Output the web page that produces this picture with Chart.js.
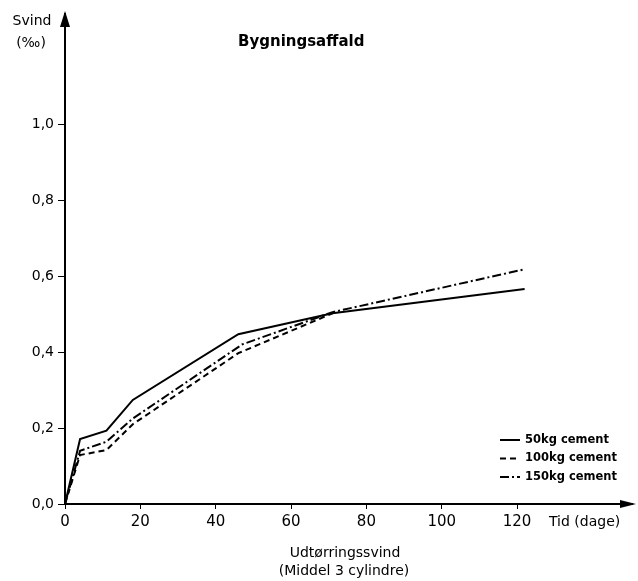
<!DOCTYPE html>
<html>
<head>
<meta charset="utf-8">
<script src="https://cdn.jsdelivr.net/npm/chart.js@4"></script>
<style>
  body { margin: 0; background: #fff; }
  #wrap { width: 638px; height: 581px; }
</style>
</head>
<body>
<div id="wrap"><canvas id="svind" width="638" height="581"></canvas></div>
<script>
// days of drying (x) and shrinkage in per mille (y)
const days50 = [0, 4, 11, 18, 46, 71, 122];
const svind50 = [0, 0.171, 0.193, 0.274, 0.447, 0.502, 0.566];
const days100 = [0, 4, 11, 18, 46, 71];
const svind100 = [0, 0.129, 0.142, 0.21, 0.397, 0.502];
const days150 = [0, 4, 11, 18, 47, 71, 122];
const svind150 = [0, 0.14, 0.164, 0.225, 0.42, 0.505, 0.618];
const xTicks = [0, 20, 40, 60, 80, 100, 120];
const yTicks = [0, 0.2, 0.4, 0.6, 0.8, 1.0];
const legendLabels = ["50kg cement", "100kg cement", "150kg cement"];
const dashes = [[], [6, 4], [9, 3, 2, 3]];

const font = "'DejaVu Sans', sans-serif";
const ink = "#000";

function toPoints(xs, ys) {
  return xs.map((x, i) => ({ x: x, y: ys[i] }));
}

const annotations = {
  id: "annotations",
  afterDraw(chart) {
    const c = chart.ctx;
    const a = chart.chartArea;
    const x0 = chart.scales.x.getPixelForValue(0);
    const y0 = chart.scales.y.getPixelForValue(0);
    c.save();
    c.fillStyle = ink;
    c.strokeStyle = ink;
    // axis arrows
    c.beginPath();
    c.moveTo(x0, a.top - 3);
    c.lineTo(x0 - 5, a.top + 13);
    c.lineTo(x0 + 5, a.top + 13);
    c.closePath();
    c.fill();
    c.beginPath();
    c.moveTo(a.right + 4, y0);
    c.lineTo(a.right - 12, y0 - 4);
    c.lineTo(a.right - 12, y0 + 4);
    c.closePath();
    c.fill();

    c.textBaseline = "middle";
    c.font = "bold 15px " + font;
    c.textAlign = "left";
    c.fillText("Bygningsaffald", 238, 42);

    c.font = "14px " + font;
    c.textAlign = "center";
    c.fillText("Svind", 32, 21);
    c.fillText("(\u2030)", 31, 43);
    c.textAlign = "left";
    c.fillText("Tid (dage)", 549, 522);
    c.textAlign = "center";
    c.fillText("Udt\u00f8rringssvind", 345, 553);
    c.fillText("(Middel 3 cylindre)", 344, 571);

    // legend
    c.font = "bold 11.5px " + font;
    c.textAlign = "left";
    legendLabels.forEach((lbl, i) => {
      const ly = 440 + i * 18.5;
      c.lineWidth = 2;
      c.setLineDash(dashes[i]);
      c.beginPath();
      c.moveTo(500, ly);
      c.lineTo(520, ly);
      c.stroke();
      c.setLineDash([]);
      c.fillText(lbl, 525, ly);
    });
    c.restore();
  }
};

const series = [
  toPoints(days50, svind50),
  toPoints(days100, svind100),
  toPoints(days150, svind150)
];

new Chart(document.getElementById("svind"), {
  type: "line",
  data: {
    datasets: series.map((pts, i) => ({
      label: legendLabels[i],
      data: pts,
      borderColor: ink,
      borderWidth: 2,
      borderDash: dashes[i],
      pointRadius: 0,
      tension: 0,
      fill: false
    }))
  },
  options: {
    responsive: false,
    animation: false,
    layout: { padding: { top: 14, right: 6, left: 0, bottom: 0 } },
    plugins: { legend: { display: false }, tooltip: { enabled: false } },
    scales: {
      x: {
        type: "linear",
        min: 0,
        max: 150.5,
        afterFit: s => { s.height = 77; },
        afterBuildTicks: s => { s.ticks = xTicks.map(v => ({ value: v })); },
        grid: { drawOnChartArea: false, tickLength: 5, color: ink, lineWidth: 1 },
        border: { color: ink, width: 2 },
        ticks: { color: ink, padding: 4, font: { family: font, size: 15 } }
      },
      y: {
        min: 0,
        max: 1.29,
        afterFit: s => { s.width = 65; },
        afterBuildTicks: s => { s.ticks = yTicks.map(v => ({ value: v })); },
        grid: { drawOnChartArea: false, tickLength: 7, color: ink, lineWidth: 1 },
        border: { color: ink, width: 2 },
        ticks: {
          color: ink,
          padding: 4,
          font: { family: font, size: 14 },
          callback: v => v.toFixed(1).replace(".", ",")
        }
      }
    }
  },
  plugins: [annotations]
});
</script>
</body>
</html>
